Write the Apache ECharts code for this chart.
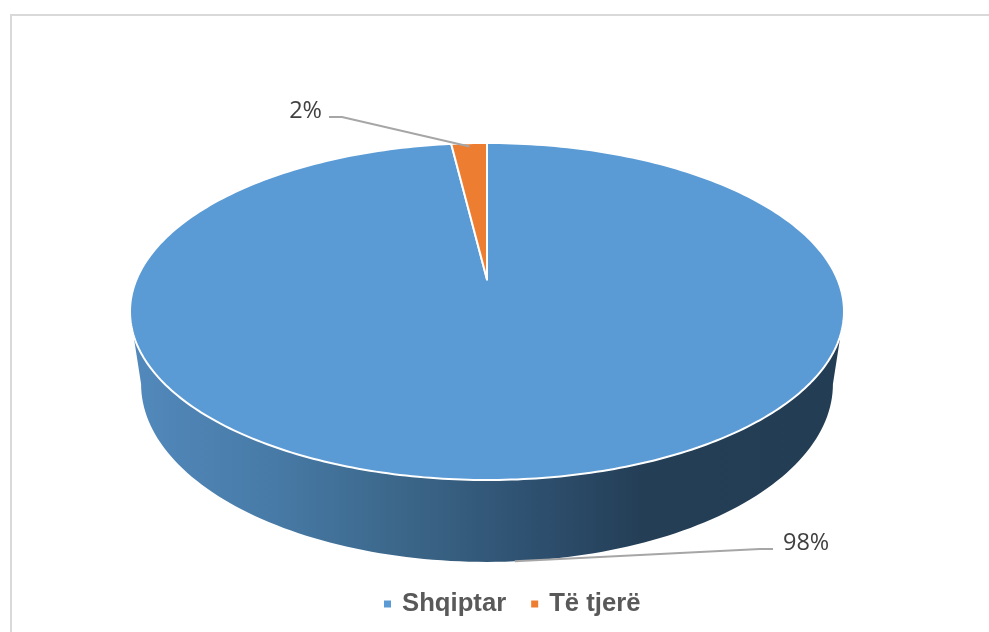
<!DOCTYPE html>
<html><head><meta charset="utf-8">
<style>html,body{margin:0;padding:0;background:#fff}#c{width:989px;height:632px}</style>
<script src="https://cdn.jsdelivr.net/npm/echarts@6/dist/echarts.min.js"></script>
</head><body><div id="c"></div>
<script>
const categories = ['Shqiptar', 'Të tjerë'];
const shares = [98.4, 1.6];
const colors = ['#5B9BD5', '#ED7D31'];

const total = shares.reduce((a, b) => a + b, 0);
const TAU = Math.PI * 2;
// chart-space ellipses (unit = top ellipse radius)
const apexY = 0.19, floorCY = -0.43, floorR = 0.969, floorRY = 1.056, cornerY = -0.137;

function topPt(a, r) { r = r || 1; return [r * Math.sin(a), r * Math.cos(a)]; }
function floorPt(a) { return [floorR * Math.sin(a), floorCY + floorRY * Math.cos(a)]; }

function renderSlice(idx) {
  return function (params, api) {
    const v = api.value(0);
    // Slices run clockwise from 12 o'clock: the first takes the right side.
    let start = 0;
    for (let i = 0; i < idx; i++) start += shares[i];
    const a0 = start / total * TAU, a1 = (start + v) / total * TAU;
    const C = p => api.coord(p);
    const kids = [];
    if (idx === 0) {
      const wall = [];
      const aStart = Math.acos(cornerY), aEnd = TAU - aStart;
      for (let i = 0; i <= 120; i++) wall.push(C(topPt(aStart + (aEnd - aStart) * i / 120)));
      const fStart = TAU - Math.PI / 2, fEnd = Math.PI / 2;
      for (let i = 0; i <= 120; i++) wall.push(C(floorPt(fStart + (fEnd - fStart) * i / 120)));
      kids.push({ type: 'polygon', shape: { points: wall },
        style: { fill: new echarts.graphic.LinearGradient(0, 0, 1, 0, [
          { offset: 0, color: '#5289BC' }, { offset: 0.2, color: '#477AA6' },
          { offset: 0.4, color: '#3A6486' }, { offset: 0.55, color: '#2F5272' },
          { offset: 0.72, color: '#243E56' }, { offset: 1, color: '#233D54' }]) } });
    }
    const pts = [C([0, apexY])];
    const n = Math.max(8, Math.round((a1 - a0) / TAU * 360));
    for (let i = 0; i <= n; i++) pts.push(C(topPt(a0 + (a1 - a0) * i / n)));
    kids.push({ type: 'polygon', shape: { points: pts },
      style: { fill: api.visual('color'), stroke: '#fff', lineWidth: 2, lineJoin: 'round' } });

    const mid = (a0 + a1) / 2;
    const pct = Math.round(v / total * 100) + '%';
    const anchor = idx === 0 ? C(floorPt(mid - 0.03)) : C(topPt(mid, 0.98));
    const side = idx === 0 ? 1 : -1;
    const elbow = idx === 0 ? [760, 549] : [342, 117];
    kids.push({ type: 'polyline',
      shape: { points: [anchor, elbow, [elbow[0] + side * 13, elbow[1]]] },
      style: { stroke: '#A6A6A6', lineWidth: 2, fill: null } });
    kids.push({ type: 'text', x: idx === 0 ? 783 : 322, y: idx === 0 ? 543 : 111,
      style: { text: pct, fontFamily: '"Open Sans"', fontSize: 23.5, fill: '#404040',
        align: idx === 0 ? 'left' : 'right', verticalAlign: 'middle' } });
    return { type: 'group', children: kids };
  };
}

const chart = echarts.init(document.getElementById('c'), null, { renderer: 'canvas' });
chart.setOption({
  animation: false,
  backgroundColor: '#fff',
  color: colors,
  grid: { left: 130, width: 714, top: 143, height: 337 },
  xAxis: { type: 'value', min: -1, max: 1, show: false },
  yAxis: { type: 'value', min: -1, max: 1, show: false },
  legend: {
    left: 379, top: 586, itemWidth: 7, itemHeight: 7, itemGap: 25, icon: 'rect',
    data: categories,
    textStyle: { fontFamily: '"Liberation Sans"', fontWeight: 'bold', fontSize: 25.7, color: '#595959', padding: [6, 0, 0, 6] }
  },
  graphic: [
    { type: 'polyline', shape: { points: [[11, 640], [11, 15], [995, 15]] }, style: { stroke: '#D9D9D9', lineWidth: 2, fill: null } }
  ],
  series: categories.map((name, i) => ({
    type: 'custom', name, clip: false, silent: true,
    coordinateSystem: 'cartesian2d',
    encode: { x: 0, y: 0 },
    data: [[shares[i]]],
    renderItem: renderSlice(i),
    itemStyle: { color: colors[i] }
  }))
});
</script></body></html>
